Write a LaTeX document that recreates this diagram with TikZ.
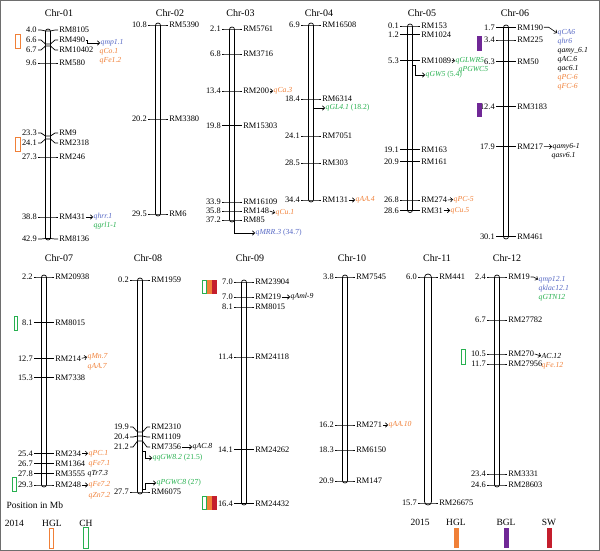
\documentclass[tikz,border=0pt]{standalone}
\usepackage{fontspec}
\setmainfont{Liberation Serif}
\usetikzlibrary{arrows.meta}
\definecolor{qorange}{RGB}{240,128,56}
\definecolor{qblue}{RGB}{86,104,196}
\definecolor{qgreen}{RGB}{40,176,80}
\definecolor{qpurple}{RGB}{112,40,150}
\definecolor{qred}{RGB}{196,30,45}
\definecolor{framegray}{RGB}{110,110,110}
\tikzset{
 tickln/.style={line width=0.7pt},
 barln/.style={line width=0.7pt, fill=white, rounded corners=2.4pt},
 numlbl/.style={font=\fontsize{8.4}{9}\selectfont, inner sep=0.6pt},
 mklbl/.style={font=\fontsize{8.4}{9}\selectfont, inner sep=0.6pt},
 qlbl/.style={font=\fontsize{7.7}{9}\selectfont\itshape, inner sep=0.5pt, anchor=west},
 ttl/.style={font=\fontsize{10}{12}\selectfont},
 lg/.style={font=\fontsize{9.5}{11}\selectfont},
 qarr/.style={line width=0.6pt, -{Straight Barb[length=2.2pt,width=4.5pt]}},
 hbox/.style={line width=0.8pt},
}
\newcommand\mk[6]{%
  \draw[tickln] ({#2-10},#4) -- ({#2-7},#4) -- ({#2-2.5},#3) -- ({#2+2.5},#3) -- ({#2+7},#4) -- ({#2+10},#4);
  \node[numlbl,anchor=east] (n#1#6) at ({#2-10.5},#4) {#5};
  \node[mklbl,anchor=west] (m#1#6) at ({#2+10.5},#4) {#6};}
\newcommand\chrbar[3]{\draw[barln] ({#1-2.5},#2) rectangle ({#1+2.5},#3);}
\begin{document}
\begin{tikzpicture}[x=1pt,y=-1pt]
\useasboundingbox (0,0) rectangle (600,551);
\draw[framegray, line width=0.8pt] (0.8,0.8) rectangle (599.2,550.2);

% titles
\node[ttl] (t01) at (59,13) {Chr-01};
\node[ttl] (t02) at (170,13) {Chr-02};
\node[ttl] (t03) at (240.5,13) {Chr-03};
\node[ttl] (t04) at (319,13) {Chr-04};
\node[ttl] (t05) at (422,13) {Chr-05};
\node[ttl] (t06) at (515,13) {Chr-06};
\node[ttl] (t07) at (59,258) {Chr-07};
\node[ttl] (t08) at (148,258) {Chr-08};
\node[ttl] (t09) at (250,258) {Chr-09};
\node[ttl] (t10) at (352,258) {Chr-10};
\node[ttl] (t11) at (437,258) {Chr-11};
\node[ttl] (t12) at (507,258) {Chr-12};

% Chr-01
\chrbar{48}{29}{240}
\mk{01}{48}{31}{30}{4.0}{RM8105}
\mk{01}{48}{44}{40}{6.6}{RM490}
\mk{01}{48}{46}{50}{6.7}{RM10402}
\mk{01}{48}{63}{63}{9.6}{RM580}
\mk{01}{48}{136}{133}{23.3}{RM9}
\mk{01}{48}{139}{143}{24.1}{RM2318}
\mk{01}{48}{157}{157}{27.3}{RM246}
\mk{01}{48}{217}{217}{38.8}{RM431}
\mk{01}{48}{238.5}{239}{42.9}{RM8136}
\node[qlbl,text=qblue] (qa1) at (100,43) {qmp1.1};
\node[qlbl,text=qorange] (qa2) at (99,52) {qCo.1};
\node[qlbl,text=qorange] (qa3) at (99,61) {qFe1.2};
\node[qlbl,text=qblue] (qa4) at (93,217) {qhrr.1};
\node[qlbl,text=qgreen] (qa5) at (93,226) {qgrl1-1};
\draw[qarr] (m01RM490.east) -- ++(2,0) |- (qa1.west);
\draw[qarr] (m01RM431.east) -- (qa4.west);
\draw[hbox,draw=qorange] (15.7,34.3) rectangle (20,48.3);
\draw[hbox,draw=qorange] (15.7,137) rectangle (20,151);

% Chr-02
\chrbar{158}{23}{216}
\mk{02}{158}{25}{25}{10.8}{RM5390}
\mk{02}{158}{119}{119}{20.2}{RM3380}
\mk{02}{158}{214}{214}{29.5}{RM6}

% Chr-03
\chrbar{232}{27}{222}
\mk{03}{232}{29}{29}{2.1}{RM5761}
\mk{03}{232}{54}{54}{6.8}{RM3716}
\mk{03}{232}{91}{91}{13.4}{RM200}
\mk{03}{232}{125.5}{125.5}{19.8}{RM15303}
\mk{03}{232}{202}{202}{33.9}{RM16109}
\mk{03}{232}{211}{211}{35.8}{RM148}
\mk{03}{232}{220}{220}{37.2}{RM85}
\node[qlbl,text=qorange] (qb1) at (273,91) {qCa.3};
\node[qlbl,text=qorange] (qb2) at (275,213) {qCu.1};
\node[qlbl,text=qblue] (qb3) at (255,233) {qMRR.3 \textup{(34.7)}};
\draw[qarr] (m03RM200.east) -- (qb1.west);
\draw[qarr] (m03RM148.east) -- (qb2.west);
\coordinate (c3a) at (234.5,215);
\draw[qarr] (c3a) |- (qb3.west);

% Chr-04
\chrbar{311}{23}{202}
\mk{04}{311}{25}{25}{6.9}{RM16508}
\mk{04}{311}{99}{99}{18.4}{RM6314}
\mk{04}{311}{136}{136}{24.1}{RM7051}
\mk{04}{311}{163}{163}{28.5}{RM303}
\mk{04}{311}{200}{200}{34.4}{RM131}
\node[qlbl,text=qgreen] (qc1) at (325,108) {qGL4.1 \textup{(18.2)}};
\node[qlbl,text=qorange] (qc2) at (355,200) {qAA.4};
\coordinate (c4a) at (313.5,101);
\draw[qarr] (c4a) |- (qc1.west);
\draw[qarr] (m04RM131.east) -- (qc2.west);

% Chr-05
\chrbar{410}{24}{212.5}
\mk{05}{410}{26}{26}{0.1}{RM153}
\mk{05}{410}{34.5}{34.5}{1.2}{RM1024}
\mk{05}{410}{60.5}{60.5}{5.3}{RM1089}
\mk{05}{410}{149.5}{149.5}{19.1}{RM163}
\mk{05}{410}{161.5}{161.5}{20.9}{RM161}
\mk{05}{410}{200}{200}{26.8}{RM274}
\mk{05}{410}{210.5}{210.5}{28.6}{RM31}
\node[qlbl,text=qgreen] (qd1) at (455,61) {qGLWR5};
\node[qlbl,text=qgreen] (qd2) at (458,69.3) {qPGWC5};
\node[qlbl,text=qgreen] (qd3) at (425,75) {qGW5 \textup{(5.4)}};
\node[qlbl,text=qorange] (qd4) at (453,199.5) {qPC-5};
\node[qlbl,text=qorange] (qd5) at (450,210.5) {qCu.5};
\draw[qarr] (m05RM1089.east) -- (qd1.west);
\coordinate (c5a) at (412.5,65);
\draw[qarr] (c5a) -- ++(2.5,0) |- (qd3.west);
\draw[qarr] (m05RM274.east) -- (qd4.west);
\draw[qarr] (m05RM31.east) -- (qd5.west);

% Chr-06
\chrbar{506}{25}{239}
\mk{06}{506}{27.3}{27.3}{1.7}{RM190}
\mk{06}{506}{40}{40}{3.4}{RM225}
\mk{06}{506}{61.7}{61.7}{6.3}{RM50}
\mk{06}{506}{106.7}{106.7}{12.4}{RM3183}
\mk{06}{506}{146.7}{146.7}{17.9}{RM217}
\mk{06}{506}{236.7}{236.7}{30.1}{RM461}
\node[qlbl,text=qblue] (qe1) at (557,33) {qCA6};
\node[qlbl,text=qblue] (qe2) at (557,42) {qhr6};
\node[qlbl] (qe3) at (557,51) {qamy\_6.1};
\node[qlbl] (qe4) at (557,60) {qAC.6};
\node[qlbl] (qe5) at (557,69) {qac6.1};
\node[qlbl,text=qorange] (qe6) at (557,78) {qPC-6};
\node[qlbl,text=qorange] (qe7) at (557,87) {qFC-6};
\node[qlbl] (qe8) at (552,146.5) {qamy6-1};
\node[qlbl] (qe9) at (551,156) {qasv6.1};
\draw[qarr] (m06RM190.east) -- ++(5,0) -- (qe1.west);
\draw[qarr] (m06RM217.east) -- (qe8.west);
\fill[qpurple] (477,36) rectangle (481.5,51);
\fill[qpurple] (477,103) rectangle (481.5,117);

% Chr-07
\chrbar{44}{275}{487}
\mk{07}{44}{277}{277}{2.2}{RM20938}
\mk{07}{44}{322.7}{322.7}{8.1}{RM8015}
\mk{07}{44}{358.3}{358.3}{12.7}{RM214}
\mk{07}{44}{377.3}{377.3}{15.3}{RM7338}
\mk{07}{44}{453.3}{453.3}{25.4}{RM234}
\mk{07}{44}{463.3}{463.3}{26.7}{RM1364}
\mk{07}{44}{473.3}{473.3}{27.8}{RM3555}
\mk{07}{44}{485}{485}{29.3}{RM248}
\node[qlbl,text=qorange] (qf1) at (87,357) {qMn.7};
\node[qlbl,text=qorange] (qf2) at (87,366.5) {qAA.7};
\node[qlbl,text=qorange] (qf3) at (88,453.3) {qPC.1};
\node[qlbl,text=qorange] (qf4) at (88,463.3) {qFe7.1};
\node[qlbl] (qf5) at (87,473.3) {qTr7.3};
\node[qlbl,text=qorange] (qf6) at (88,485) {qFe7.2};
\node[qlbl,text=qorange] (qf7) at (88,496) {qZn7.2};
\draw[qarr] (m07RM214.east) -- (qf1.west);
\draw[qarr] (m07RM234.east) -- (qf3.west);
\draw[qarr] (m07RM248.east) -- (qf6.west);
\draw[hbox,draw=qgreen] (14,316.7) rectangle (17.7,330);
\draw[hbox,draw=qgreen] (12,477) rectangle (16.3,491);

% Chr-08
\chrbar{140}{278}{494}
\mk{08}{140}{280}{280}{0.2}{RM1959}
\mk{08}{140}{432}{427}{19.9}{RM2310}
\mk{08}{140}{436}{437}{20.4}{RM1109}
\mk{08}{140}{441}{447}{21.2}{RM7356}
\mk{08}{140}{492}{492}{27.7}{RM6075}
\node[qlbl] (qg1) at (192,447) {qAC.8};
\node[qlbl,text=qgreen] (qg2) at (152,458) {qqGW8.2 \textup{(21.5)}};
\node[qlbl,text=qgreen] (qg3) at (156,483) {qPGWC8 \textup{(27)}};
\draw[qarr] (m08RM7356.east) -- (qg1.west);
\coordinate (c8a) at (142.5,451);
\draw[qarr] (c8a) -- ++(3,0) |- (qg2.west);
\coordinate (c8b) at (142.5,489);
\draw[qarr] (c8b) -- ++(3,0) |- (qg3.west);

% Chr-09
\chrbar{244}{280}{505}
\mk{09}{244}{282}{282}{7.0}{RM23904}
\mk{09}{244}{297}{297}{7.0}{RM219}
\mk{09}{244}{307}{307}{8.1}{RM8015}
\mk{09}{244}{357}{357}{11.4}{RM24118}
\mk{09}{244}{449.3}{449.3}{14.1}{RM24262}
\mk{09}{244}{503.3}{503.3}{16.4}{RM24432}
\node[qlbl] (qh1) at (290,297) {qAml-9};
\draw[qarr] (m09RM219.east) -- (qh1.west);
\draw[hbox,draw=qgreen] (202.3,280.5) rectangle (206,293.5);
\fill[qorange] (207,280) rectangle (211.5,294);
\fill[qred] (212,280) rectangle (216.5,294);
\draw[hbox,draw=qgreen] (202.3,496.5) rectangle (206,509.5);
\fill[qorange] (207,496) rectangle (211.5,510);
\fill[qred] (212,496) rectangle (216.5,510);

% Chr-10
\chrbar{345}{275}{483}
\mk{10}{345}{277}{277}{3.8}{RM7545}
\mk{10}{345}{425}{425}{16.2}{RM271}
\mk{10}{345}{450}{450}{18.3}{RM6150}
\mk{10}{345}{481}{481}{20.9}{RM147}
\node[qlbl,text=qorange] (qi1) at (388,425) {qAA.10};
\draw[qarr] (m10RM271.east) -- (qi1.west);

% Chr-11
\draw[line width=0.7pt, fill=white, rounded corners=3.4pt] (424.5,274) rectangle (431.5,505);
\mk{11}{428}{277}{277}{6.0}{RM441}
\mk{11}{428}{503}{503}{15.7}{RM26675}

% Chr-12
\chrbar{497}{275}{487}
\mk{12}{497}{277}{277}{2.4}{RM19}
\mk{12}{497}{320}{320}{6.7}{RM27782}
\mk{12}{497}{354}{354}{10.5}{RM270}
\mk{12}{497}{364}{364}{11.7}{RM27956}
\mk{12}{497}{474}{474}{23.4}{RM3331}
\mk{12}{497}{485}{485}{24.6}{RM28603}
\node[qlbl,text=qblue] (qj1) at (538,279.5) {qmp12.1};
\node[qlbl,text=qblue] (qj2) at (538,288.5) {qklac12.1};
\node[qlbl,text=qgreen] (qj3) at (538,297.5) {qGTN12};
\node[qlbl] (qj4) at (541,356) {AC.12};
\node[qlbl,text=qorange] (qj5) at (541,366) {qFe.12};
\draw[qarr] (m12RM19.east) -- ++(3,0) -- (qj1.west);
\draw[qarr] (m12RM270.east) -- (qj4.west);
\draw[hbox,draw=qgreen] (461,349) rectangle (465,364);

% legends
\node[lg,anchor=west] (pos) at (3,505) {Position in Mb};
\node[lg] (y14) at (14.5,523) {2014};
\node[lg] (h14) at (52,523) {HGL};
\node[lg] (c14) at (86,523) {CH};
\draw[hbox,draw=qorange] (49,528) rectangle (53.5,548);
\draw[hbox,draw=qgreen] (83,527) rectangle (88,548);
\node[lg] (y15) at (420,522) {2015};
\node[lg] (h15) at (456,522) {HGL};
\node[lg] (b15) at (506,522) {BGL};
\node[lg] (s15) at (549,522) {SW};
\fill[qorange] (453.5,528) rectangle (458.5,548);
\fill[qpurple] (503.5,528) rectangle (508.5,548);
\fill[qred] (546.5,528) rectangle (551.5,548);
\end{tikzpicture}
\end{document}
